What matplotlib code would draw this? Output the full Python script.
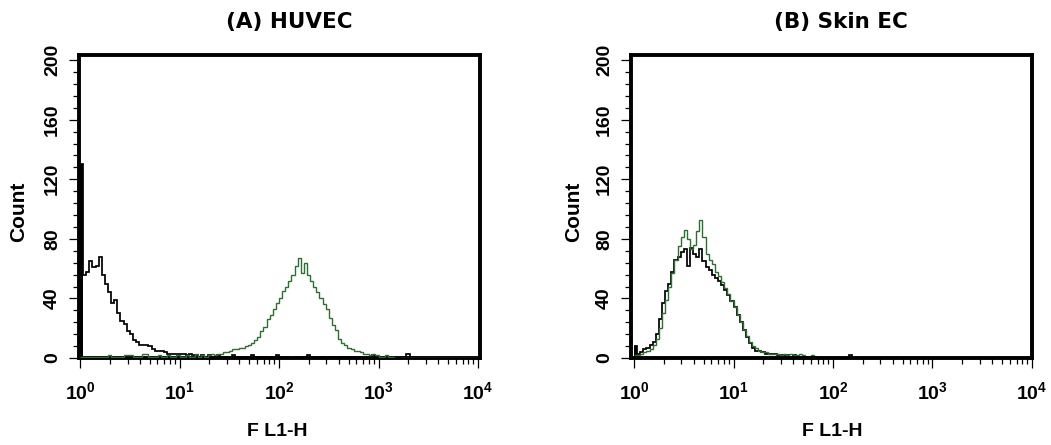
import numpy as np
import matplotlib
matplotlib.use('Agg')
import matplotlib.pyplot as plt
from matplotlib.ticker import MultipleLocator, LogLocator, FixedLocator, NullFormatter

plt.rcParams['font.family'] = ['Liberation Sans', 'DejaVu Sans']
plt.rcParams['font.weight'] = 'bold'
plt.rcParams['mathtext.fontset'] = 'custom'
plt.rcParams['mathtext.rm'] = 'Liberation Sans:bold'
plt.rcParams['mathtext.it'] = 'Liberation Sans:bold'
plt.rcParams['mathtext.bf'] = 'Liberation Sans:bold'

# ---------------- data ----------------
titles = ['(A) HUVEC', '(B) Skin EC']
x_label = 'F L1-H'
y_label = 'Count'
y_ticks = [0, 40, 80, 120, 160, 200]
y_tick_labels = ['0', '40', '80', '120', '160', '200']
x_ticks = [1, 10, 100, 1000, 10000]
x_tick_labels = ['$10^{0}$', '$10^{1}$', '$10^{2}$', '$10^{3}$', '$10^{4}$']
channels_per_decade = 32
n_decades = 4

# counts per log channel (32 channels / decade, 10^0 .. 10^4)
huvec_control = [
    130, 56, 58, 65, 61, 62, 68, 56, 50, 44,
    37, 39, 30, 25, 23, 18, 16, 12, 11, 9,
    9, 9, 8, 6, 5, 5, 5, 4, 3, 3,
    3, 3, 3, 3, 2, 3, 2, 2, 1, 2,
    1, 2, 1, 1, 2, 1, 1, 0, 1, 2,
    1, 1, 0, 1, 1, 2, 1, 0, 1, 1,
    0, 1, 1, 2, 1, 0, 1, 1, 0, 1,
    1, 0, 1, 2, 1, 1, 0, 1, 1, 0,
    1, 1, 0, 1, 1, 0, 1, 0, 1, 1,
    0, 0, 0, 0, 2, 0, 0, 0, 0, 0,
    0, 0, 0, 0, 0, 3, 0, 0, 0, 0,
    0, 0, 0, 0, 0, 0, 0, 0, 0, 0,
    0, 0, 0, 0, 0, 0, 0, 0,
]
huvec_test = [
    1, 1, 1, 1, 1, 1, 1, 1, 1, 2,
    1, 1, 1, 1, 2, 2, 2, 1, 1, 1,
    3, 3, 1, 1, 1, 2, 1, 1, 2, 1,
    1, 2, 1, 1, 2, 1, 1, 3, 1, 2,
    1, 2, 3, 2, 3, 3, 4, 4, 5, 6,
    6, 7, 7, 8, 9, 10, 12, 14, 18, 21,
    26, 29, 33, 37, 40, 45, 48, 52, 56, 62,
    67, 57, 64, 56, 52, 48, 44, 40, 36, 33,
    27, 22, 19, 13, 10, 9, 7, 6, 5, 5,
    4, 3, 3, 2, 3, 2, 1, 1, 2, 1,
    1, 0, 0, 0, 0, 0, 0, 0, 0, 0,
    0, 0, 0, 0, 0, 0, 0, 0, 0, 0,
    0, 0, 0, 0, 0, 0, 0, 0,
]
skin_control = [
    8, 3, 4, 6, 7, 9, 11, 16, 26, 37,
    45, 50, 58, 66, 68, 71, 73, 62, 74, 70,
    68, 73, 65, 61, 59, 56, 54, 52, 49, 46,
    42, 38, 34, 29, 24, 19, 14, 10, 7, 5,
    5, 4, 3, 3, 3, 3, 2, 2, 2, 2,
    1, 2, 1, 1, 1, 0, 1, 0, 1, 0,
    0, 0, 0, 0, 0, 0, 0, 0, 0, 2,
    0, 0, 0, 0, 0, 0, 0, 0, 0, 0,
    0, 0, 0, 0, 0, 0, 0, 0, 0, 0,
    0, 0, 0, 0, 0, 0, 0, 0, 0, 0,
    0, 0, 0, 0, 0, 0, 0, 0, 0, 0,
    0, 0, 0, 0, 0, 0, 0, 0, 0, 0,
    0, 0, 0, 0, 0, 0, 0, 0,
]
skin_test = [
    2, 2, 3, 4, 5, 6, 9, 13, 20, 30,
    39, 48, 57, 66, 75, 81, 86, 80, 73, 76,
    85, 93, 81, 70, 66, 63, 58, 55, 51, 47,
    43, 38, 34, 29, 24, 19, 15, 11, 8, 7,
    5, 4, 4, 3, 3, 3, 3, 2, 3, 2,
    3, 2, 2, 3, 2, 1, 1, 2, 1, 1,
    1, 0, 1, 0, 0, 1, 0, 0, 0, 0,
    0, 0, 0, 0, 0, 0, 0, 0, 0, 0,
    0, 0, 0, 0, 0, 0, 0, 0, 0, 0,
    0, 0, 0, 0, 0, 0, 0, 0, 0, 0,
    0, 0, 0, 0, 0, 0, 0, 0, 0, 0,
    0, 0, 0, 0, 0, 0, 0, 0, 0, 0,
    0, 0, 0, 0, 0, 0, 0, 0,
]

control_color = '#000000'
test_color = '#2f6e32'

# channel scale: log-spaced bin edges
edges = 10.0 ** (np.arange(channels_per_decade * n_decades + 1) / channels_per_decade)

fig = plt.figure(figsize=(10.51, 4.45), dpi=100)

panels = [
    dict(pos=[0.0752, 0.1955, 0.3815, 0.681], xlim=(0.977, 10470),
         control=huvec_control, test=huvec_test, test_on_top=True,
         title_x=0.275, xlabel_x=0.2636, ylabel_x=0.0181),
    dict(pos=[0.6004, 0.1955, 0.3815, 0.681], xlim=(0.933, 10000),
         control=skin_control, test=skin_test, test_on_top=False,
         title_x=0.800, xlabel_x=0.7918, ylabel_x=0.5457),
]

for title, p in zip(titles, panels):
    ax = fig.add_axes(p['pos'])
    ax.set_xscale('log')
    ax.set_xlim(*p['xlim'])
    ax.set_ylim(0, 203.5)

    zc = 2.0
    zt = 3.0 if p['test_on_top'] else 2.1
    ax.stairs(p['control'], edges, baseline=None, color=control_color,
              linewidth=1.25, zorder=zc)
    # first (off-scale) channel rendered solid, as on the cytometer plot
    ax.stairs(p['control'][:1], edges[:2], fill=True, color=control_color,
              zorder=zc)
    ax.stairs(p['test'], edges, baseline=None, color=test_color,
              linewidth=1.0, zorder=zt)

    for s in ax.spines.values():
        s.set_linewidth(2.8)
        s.set_color('black')

    ax.xaxis.set_major_locator(FixedLocator(x_ticks))
    ax.set_xticklabels(x_tick_labels)
    ax.xaxis.set_minor_locator(LogLocator(base=10, subs=np.arange(2, 10)))
    ax.xaxis.set_minor_formatter(NullFormatter())

    ax.yaxis.set_major_locator(FixedLocator(y_ticks))
    ax.set_yticklabels(y_tick_labels, rotation=90, va='center')
    ax.yaxis.set_minor_locator(MultipleLocator(8))

    ax.tick_params(axis='both', which='major', direction='out', length=7,
                   width=0.9, labelsize=14, top=False, right=False)
    ax.tick_params(axis='both', which='minor', direction='out', length=4,
                   width=0.9, top=False, right=False)
    ax.tick_params(axis='x', which='major', pad=10)
    ax.tick_params(axis='y', which='major', pad=6)

    fig.text(p['title_x'], 1 - 22 / 445, title, ha='center', va='center',
             fontsize=15.5, fontweight='bold', family='DejaVu Sans')
    fig.text(p['xlabel_x'], 1 - 432 / 445, x_label, ha='center', va='center',
             fontsize=14, fontweight='bold')
    fig.text(p['ylabel_x'], 1 - 212 / 445, y_label, ha='center', va='center',
             rotation=90, fontsize=15, fontweight='bold')

fig.savefig('out.png', dpi=100)
